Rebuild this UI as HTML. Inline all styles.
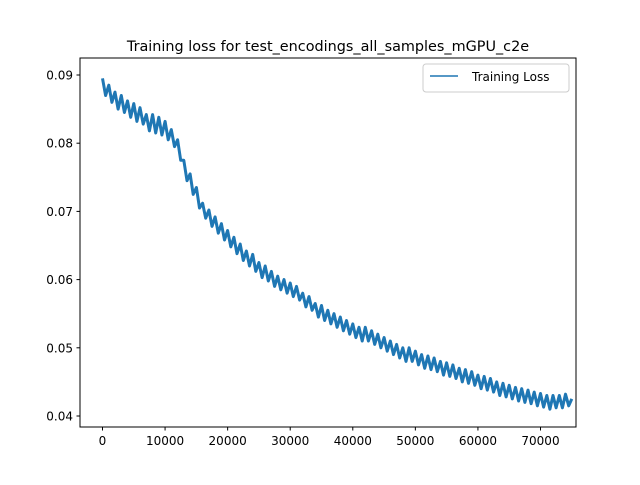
<!DOCTYPE html>
<html><head><meta charset="utf-8">
<style>
body{margin:0;background:#fff;}
svg text{font-family:"DejaVu Sans","Liberation Sans",sans-serif;}
</style></head>
<body>
<svg id="chart" width="640" height="480" xmlns="http://www.w3.org/2000/svg">
<rect width="640" height="480" fill="#fff"/>
<text x="328" y="51" font-size="14.4" text-anchor="middle">Training loss for test_encodings_all_samples_mGPU_c2e</text>
<g id="plot"></g>
<rect x="80" y="58" width="496" height="369" fill="none" stroke="#000" stroke-width="1"/>
<g>
<rect x="423" y="64" width="146" height="28" rx="3" fill="#fff" stroke="#ccc"/>
<line x1="430" y1="76" x2="458" y2="76" stroke="#1f77b4" stroke-width="1.5"/>
<text x="472" y="81" font-size="12">Training Loss</text>
</g>
</svg>
<script>
const xTicks=[0,10000,20000,30000,40000,50000,60000,70000];
const yTicks=[0.04,0.05,0.06,0.07,0.08,0.09];
const yTickLabels=["0.04","0.05","0.06","0.07","0.08","0.09"];
const stepSize=500;
const lossValues=[.0895,.0870,.0885,.0860,.0875,.0850,.0870,.0845,.0862,.0838,.0858,.0832,.0852,.0828,.0842,.0818,.0842,.0815,.0838,.0812,
.0832,.0805,.0820,.0795,.0805,.0775,.0775,.0745,.0755,.0725,.0735,.0705,.0712,.0690,.0702,.0678,.0692,.0668,.0682,.0658,
.0672,.0648,.0662,.0638,.0652,.0628,.0642,.0620,.0637,.0612,.0625,.0603,.0620,.0598,.0612,.0590,.0605,.0585,.0600,.0580,
.0595,.0575,.0590,.0570,.0580,.0560,.0575,.0555,.0565,.0545,.0562,.0540,.0555,.0535,.0550,.0530,.0545,.0525,.0540,.0520,
.0535,.0515,.0530,.0510,.0530,.0510,.0525,.0505,.0520,.0500,.0515,.0495,.0510,.0490,.0505,.0485,.0500,.0480,.0500,.0480,
.0495,.0475,.0490,.0470,.0488,.0468,.0485,.0465,.0480,.0460,.0478,.0458,.0475,.0455,.0470,.0450,.0468,.0448,.0465,.0445,
.0460,.0440,.0458,.0438,.0455,.0435,.0450,.0430,.0448,.0428,.0445,.0425,.0442,.0422,.0440,.0420,.0438,.0418,.0435,.0415,
.0433,.0413,.0430,.0410,.0430,.0412,.0430,.0412,.0432,.0415,.0425];
const sx=v=>102.5+v*(540.5-102.5)/70000;
const sy=v=>416-(v-0.04)*(416-75)/0.05;
const NS="http://www.w3.org/2000/svg";
const g=document.getElementById('plot');
function mk(t,a){const e=document.createElementNS(NS,t);for(const k in a)e.setAttribute(k,a[k]);g.appendChild(e);return e;}
xTicks.forEach(v=>{
 const l=mk('line',{x1:sx(v),x2:sx(v),y1:427,y2:430.5,stroke:'#000'});
 
 
 const t=mk('text',{x:sx(v),y:445,'font-size':12,'text-anchor':'middle'});t.textContent=String(v);
 
 
});
yTicks.forEach((v,i)=>{
 const l=mk('line',{x1:76.5,x2:80,y1:sy(v),y2:sy(v),stroke:'#000'});
 
 
 const t=mk('text',{x:73,y:sy(v)+4.5,'font-size':12,'text-anchor':'end'});t.textContent=yTickLabels[i];
 
 
});
const pts=lossValues.map((v,i)=>sx(i*stepSize).toFixed(1)+','+sy(v).toFixed(1)).join(' ');
const line=mk('polyline',{points:pts,fill:'none',stroke:'#1f77b4','stroke-width':3,'stroke-linejoin':'round'});


</script>
</body></html>
